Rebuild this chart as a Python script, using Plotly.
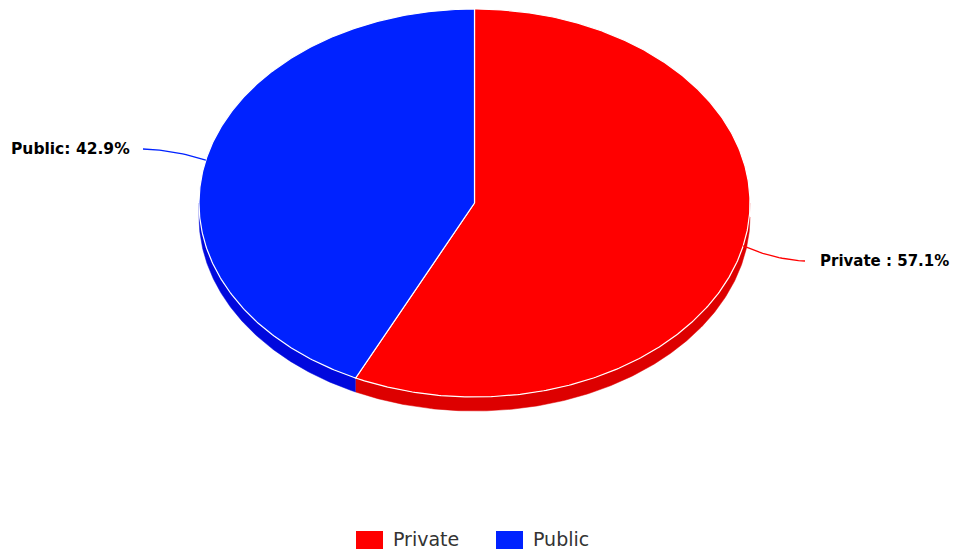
import numpy as np
import plotly.graph_objects as go

# ---- data ----
categories = ["Private", "Public"]
values = [57.1, 42.9]
colors = ["#ff0000", "#0022ff"]
side_colors = ["#dd0000", "#0008dd"]

# ---- geometry (style) ----
CX, CY = 474.5, 203.0
RX, RY = 275.5, 194.0
DEPTH = 14.0
W, H = 954, 551


def pt(theta_deg, dy=0.0):
    t = np.radians(theta_deg)
    return CX + RX * np.sin(t), CY - RY * np.cos(t) + dy


def arc(a, b, dy=0.0, n=None):
    n = n or max(int(abs(b - a) * 2), 4)
    th = np.linspace(a, b, n)
    x, y = pt(th, dy)
    return list(x), list(y)


total = sum(values)
starts, ends = [], []
acc = 0.0
for v in values:
    starts.append(acc)
    acc += v / total * 360.0
    ends.append(acc)

fig = go.Figure()

# side faces (front lower half only)
for i, cat in enumerate(categories):
    a = max(starts[i], 90.0)
    b = min(ends[i], 270.0)
    if b <= a:
        continue
    tx, ty = arc(a, b)
    bx, by = arc(b, a, DEPTH)
    fig.add_trace(go.Scatter(x=tx + bx, y=ty + by, fill="toself", mode="lines",
                             line=dict(color=side_colors[i], width=0.5),
                             fillcolor=side_colors[i], hoverinfo="skip",
                             showlegend=False))

# top faces
for i, cat in enumerate(categories):
    ax, ay = arc(starts[i], ends[i])
    fig.add_trace(go.Scatter(x=[CX] + ax + [CX], y=[CY] + ay + [CY], fill="toself",
                             mode="lines", line=dict(color="white", width=1.2),
                             fillcolor=colors[i], name=cat, hoverinfo="skip",
                             showlegend=False))

# data labels with connectors
label_pos = {"Private": (805, 261, 951, "right", 15),
             "Public": (143, 149, 132, "right", 15.5)}
for i, cat in enumerate(categories):
    mid = (starts[i] + ends[i]) / 2
    sx, sy = pt(mid)
    ex, ey, tx, anchor, fs = label_pos[cat]
    t = np.linspace(0, 1, 20)
    cx1, cy1 = sx + (ex - sx) * 0.5, sy + (ey - sy) * 0.9
    xs = (1 - t) ** 2 * sx + 2 * (1 - t) * t * cx1 + t ** 2 * ex
    ys = (1 - t) ** 2 * sy + 2 * (1 - t) * t * cy1 + t ** 2 * ey
    fig.add_trace(go.Scatter(x=xs, y=ys, mode="lines",
                             line=dict(color=colors[i], width=1.3),
                             hoverinfo="skip", showlegend=False))
    sep = " : " if cat == "Private" else ": "
    fig.add_annotation(x=tx, y=ey, text=f"<b>{cat}{sep}{values[i]:.1f}%</b>",
                       xanchor=anchor, yanchor="middle", showarrow=False,
                       font=dict(family="DejaVu Sans", size=fs, color="#000000"))

# legend
leg_x = [356, 496]
for i, cat in enumerate(categories):
    fig.add_shape(type="rect", x0=leg_x[i], x1=leg_x[i] + 27, y0=531, y1=549,
                  fillcolor=colors[i], line=dict(width=0), layer="above")
    fig.add_annotation(x=leg_x[i] + 35, y=539, text=cat, xanchor="left",
                       yanchor="middle", showarrow=False,
                       font=dict(family="DejaVu Sans", size=19, color="#333333"))

fig.update_layout(
    width=W, height=H, margin=dict(l=0, r=0, t=0, b=0),
    paper_bgcolor="white", plot_bgcolor="white",
    xaxis=dict(range=[0, W], visible=False, fixedrange=True),
    yaxis=dict(range=[H, 0], visible=False, fixedrange=True),
    showlegend=False,
)

fig.write_html("out.html")
